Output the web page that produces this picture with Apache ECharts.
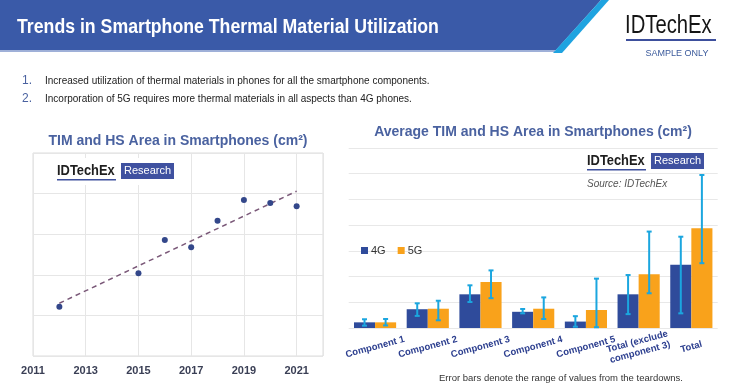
<!DOCTYPE html>
<html>
<head>
<meta charset="utf-8">
<script src="https://cdn.jsdelivr.net/npm/echarts@6/dist/echarts.min.js"></script>
<style>
html,body{margin:0;padding:0;background:#fff;}
#chart{width:733px;height:390px;}
</style>
</head>
<body>
<div id="chart"></div>
<script>
// ---- Left chart data (scatter + trend) ----
var years = [2012, 2015, 2016, 2017, 2018, 2019, 2020, 2021];
var areaValues = [12.1, 20.4, 28.6, 26.8, 33.3, 38.4, 37.7, 36.9];
var trendYears = [2012, 2021];
var trendValues = [13.0, 40.6];

// ---- Right chart data (bars + error bars) ----
var categories = ['Component 1', 'Component 2', 'Component 3', 'Component 4', 'Component 5', 'Total (exclude\ncomponent 3)', 'Total'];
var g4Values = [2.2, 7.3, 13.1, 6.3, 2.5, 13.1, 24.6];
var g5Values = [2.2, 7.5, 17.9, 7.5, 7.0, 20.9, 38.8];
var g4Low = [0.9, 4.7, 10.1, 5.7, 0.5, 5.4, 5.7];
var g4High = [3.4, 9.6, 16.6, 7.4, 4.6, 20.6, 35.5];
var g5Low = [1.0, 3.0, 11.6, 3.5, 0.3, 13.5, 25.2];
var g5High = [3.5, 10.6, 22.4, 11.9, 19.2, 37.5, 59.5];

// ---- Texts ----
var headerTitle = 'Trends in Smartphone Thermal Material Utilization';
var bullets = [
  'Increased utilization of thermal materials in phones for all the smartphone components.',
  'Incorporation of 5G requires more thermal materials in all aspects than 4G phones.'
];
var leftTitle = 'TIM and HS Area in Smartphones (cm\u00B2)';
var rightTitle = 'Average TIM and HS Area in Smartphones (cm\u00B2)';
var footNote = 'Error bars denote the range of values from the teardowns.';

var chart = echarts.init(document.getElementById('chart'), null, {renderer: 'canvas'});

var scatterData = years.map(function (y, i) { return [y, areaValues[i]]; });
var trendData = trendYears.map(function (y, i) { return [y, trendValues[i]]; });
var err4 = categories.map(function (c, i) { return [i, g4Low[i], g4High[i], -1]; });
var err5 = categories.map(function (c, i) { return [i, g5Low[i], g5High[i], 1]; });

function errorRender(params, api) {
  var idx = api.value(0), lo = api.value(1), hi = api.value(2), side = api.value(3);
  var w = api.size([1, 0])[0];
  var cx = api.coord([idx, 0])[0] + side * w * 0.2;
  var yLo = api.coord([idx, lo])[1];
  var yHi = api.coord([idx, hi])[1];
  var cap = 2.5;
  var st = {stroke: '#1ba6df', lineWidth: 2};
  return {
    type: 'group',
    children: [
      {type: 'line', shape: {x1: cx, y1: yHi, x2: cx, y2: yLo}, style: st},
      {type: 'line', shape: {x1: cx - cap, y1: yHi, x2: cx + cap, y2: yHi}, style: st},
      {type: 'line', shape: {x1: cx - cap, y1: yLo, x2: cx + cap, y2: yLo}, style: st}
    ]
  };
}

function logo(x, yText, boxX, boxY) {
  return [
    {type: 'text', x: x, y: yText, scaleX: 0.92, z: 20, style: {text: 'IDTechEx', font: 'bold 14px "Liberation Sans", Arial, sans-serif', fill: '#1e1e1e', align: 'left', verticalAlign: 'middle', textAlign: 'left', textVerticalAlign: 'middle'}},
    {type: 'rect', z: 20, shape: {x: x, y: yText + 8, width: 59, height: 1.5}, style: {fill: '#3d4f9c'}},
    {type: 'rect', z: 20, shape: {x: boxX, y: boxY, width: 53, height: 16}, style: {fill: '#3f51a0'}},
    {type: 'text', z: 21, x: boxX + 26.5, y: boxY + 8, style: {text: 'Research', font: '11px "Liberation Sans", Arial, sans-serif', fill: '#ffffff', align: 'center', verticalAlign: 'middle', textAlign: 'center', textVerticalAlign: 'middle'}}
  ];
}

var graphics = [
  {type: 'polygon', shape: {points: [[0, 0], [601, 0], [556, 50], [0, 50]]}, style: {fill: '#3a5aa8'}, z: 1},
  {type: 'rect', shape: {x: 0, y: 50, width: 555, height: 2}, style: {fill: '#9fb0d8'}, z: 1},
  {type: 'polygon', shape: {points: [[601, 0], [609, 0], [562, 53], [553, 53]]}, style: {fill: '#1fa3e0'}, z: 2},
  {type: 'text', x: 17, y: 27, scaleX: 0.885, style: {text: headerTitle, font: 'bold 20px "Liberation Sans", Arial, sans-serif', fill: '#ffffff', align: 'left', verticalAlign: 'middle', textAlign: 'left', textVerticalAlign: 'middle'}, z: 3},
  {type: 'text', x: 625, y: 26, scaleX: 0.81, style: {text: 'IDTechEx', font: '25px "Liberation Sans", Arial, sans-serif', fill: '#151515', align: 'left', verticalAlign: 'middle', textAlign: 'left', textVerticalAlign: 'middle'}},
  {type: 'rect', shape: {x: 626, y: 39, width: 90, height: 2}, style: {fill: '#3d4f9c'}},
  {type: 'text', x: 677, y: 54, style: {text: 'SAMPLE ONLY', font: '9px "Liberation Sans", Arial, sans-serif', fill: '#3b5a9b', align: 'center', verticalAlign: 'middle', textAlign: 'center', textVerticalAlign: 'middle'}},
  {type: 'text', x: 22, y: 81, style: {text: '1.', font: '12px "Liberation Sans", Arial, sans-serif', fill: '#4a62a0', align: 'left', verticalAlign: 'middle', textAlign: 'left', textVerticalAlign: 'middle'}},
  {type: 'text', x: 22, y: 99, style: {text: '2.', font: '12px "Liberation Sans", Arial, sans-serif', fill: '#4a62a0', align: 'left', verticalAlign: 'middle', textAlign: 'left', textVerticalAlign: 'middle'}},
  {type: 'text', x: 45, y: 81, style: {text: bullets[0], font: '10px "Liberation Sans", Arial, sans-serif', fill: '#222222', align: 'left', verticalAlign: 'middle', textAlign: 'left', textVerticalAlign: 'middle'}},
  {type: 'text', x: 45, y: 99, style: {text: bullets[1], font: '10px "Liberation Sans", Arial, sans-serif', fill: '#222222', align: 'left', verticalAlign: 'middle', textAlign: 'left', textVerticalAlign: 'middle'}},
  {type: 'text', x: 178, y: 141, style: {text: leftTitle, font: 'bold 14px "Liberation Sans", Arial, sans-serif', fill: '#4a62a0', align: 'center', verticalAlign: 'middle', textAlign: 'center', textVerticalAlign: 'middle'}},
  {type: 'text', x: 533, y: 132, style: {text: rightTitle, font: 'bold 14px "Liberation Sans", Arial, sans-serif', fill: '#4a62a0', align: 'center', verticalAlign: 'middle', textAlign: 'center', textVerticalAlign: 'middle'}},
  {type: 'text', x: 587, y: 184, z: 20, style: {text: 'Source: IDTechEx', font: 'italic 10px "Liberation Sans", Arial, sans-serif', fill: '#555555', align: 'left', verticalAlign: 'middle', textAlign: 'left', textVerticalAlign: 'middle'}},
  {type: 'text', x: 561, y: 378, style: {text: footNote, font: '9.5px "Liberation Sans", Arial, sans-serif', fill: '#333333', align: 'center', verticalAlign: 'middle', textAlign: 'center', textVerticalAlign: 'middle'}},
  {type: 'rect', z: 19, shape: {x: 50, y: 158, width: 131, height: 27}, style: {fill: '#ffffff'}}
].concat(logo(57, 171, 121, 163)).concat(logo(587, 161, 651, 153));

var option = {
  backgroundColor: '#ffffff',
  animation: false,
  graphic: graphics,
  legend: {
    data: ['4G', '5G'],
    left: 356, top: 240,
    icon: 'rect', itemWidth: 7, itemHeight: 7, itemGap: 12,
    textStyle: {fontSize: 11, color: '#333', fontFamily: '"Liberation Sans", Arial, sans-serif', padding: [0, 0, 0, -2]}
  },
  grid: [
    {left: 33, top: 153, width: 290, height: 203, show: true, borderColor: '#dcdcdc', borderWidth: 1},
    {left: 348.7, top: 148, width: 369, height: 180}
  ],
  xAxis: [
    {
      type: 'value', gridIndex: 0, min: 2011, max: 2022, interval: 2,
      axisLine: {show: false}, axisTick: {show: false},
      splitLine: {show: true, lineStyle: {color: '#e6e6e6'}},
      axisLabel: {showMaxLabel: false, margin: 9, fontSize: 11, fontWeight: 'bold', color: '#3a3f55', fontFamily: '"Liberation Sans", Arial, sans-serif',
        formatter: function (v) { return String(v); }}
    },
    {
      type: 'category', gridIndex: 1, data: categories,
      axisLine: {show: false}, axisTick: {show: false},
      axisLabel: {interval: 0, rotate: 15, align: 'center', verticalAlign: 'middle', margin: 19, fontSize: 9.5, fontWeight: 'bold', color: '#2e4090', lineHeight: 11, fontFamily: '"Liberation Sans", Arial, sans-serif'}
    }
  ],
  yAxis: [
    {
      type: 'value', gridIndex: 0, min: 0, max: 50, interval: 10,
      axisLine: {show: false}, axisTick: {show: false}, axisLabel: {show: false},
      splitLine: {lineStyle: {color: '#e6e6e6'}}
    },
    {
      type: 'value', gridIndex: 1, min: 0, max: 70, interval: 10,
      axisLine: {show: false}, axisTick: {show: false}, axisLabel: {show: false},
      splitLine: {lineStyle: {color: '#e8e8e8'}}
    }
  ],
  series: [
    {
      name: 'trend', type: 'line', xAxisIndex: 0, yAxisIndex: 0, data: trendData,
      symbol: 'none', lineStyle: {type: [5, 4], color: '#7a5878', width: 1.5}, z: 2
    },
    {
      name: 'area', type: 'scatter', xAxisIndex: 0, yAxisIndex: 0, data: scatterData,
      symbolSize: 6, itemStyle: {color: '#33478a', opacity: 1}, z: 3
    },
    {
      name: '4G', type: 'bar', xAxisIndex: 1, yAxisIndex: 1, data: g4Values,
      barGap: '0%', barCategoryGap: '20%', itemStyle: {color: '#2f4b9b'}
    },
    {
      name: '5G', type: 'bar', xAxisIndex: 1, yAxisIndex: 1, data: g5Values,
      barGap: '0%', barCategoryGap: '20%', itemStyle: {color: '#f9a21b'}
    },
    {
      name: 'err4', type: 'custom', xAxisIndex: 1, yAxisIndex: 1, data: err4,
      renderItem: errorRender, encode: {x: 0, y: [1, 2]}, z: 5
    },
    {
      name: 'err5', type: 'custom', xAxisIndex: 1, yAxisIndex: 1, data: err5,
      renderItem: errorRender, encode: {x: 0, y: [1, 2]}, z: 5
    }
  ]
};
chart.setOption(option);
</script>
</body>
</html>
